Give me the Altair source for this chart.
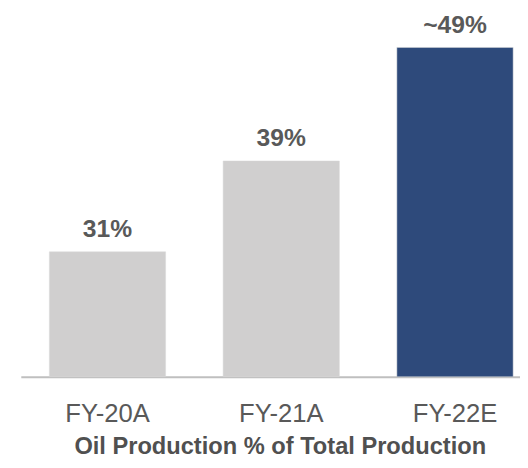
import altair as alt
import pandas as pd

categories = ["FY-20A", "FY-21A", "FY-22E"]
values = [31, 39, 49]
labels = ["31%", "39%", "~49%"]
bar_colors = ["#D0CFCF", "#D0CFCF", "#2E4A7B"]
title_text = "Oil Production % of Total Production"

df = pd.DataFrame({"cat": categories, "val": values, "label": labels})

FONT = "Liberation Sans"

x_enc = alt.X(
    "cat:N",
    sort=categories,
    scale=alt.Scale(paddingInner=0.331, paddingOuter=0.102, align=0.806),
    axis=alt.Axis(
        title=title_text,
        labelAngle=0,
        labelFontSize=26,
        labelColor="#595959",
        labelFont=FONT,
        ticks=False,
        tickSize=0,
        labelPadding=24,
        domainColor="#BFBFBF",
        domainWidth=2,
        titleFont=FONT,
        titleFontSize=24,
        titleFontWeight="bold",
        titleColor="#505050",
        titlePadding=9,
        titleX=263,
        titleAlign="center",
    ),
)
y_enc = alt.Y("val:Q", scale=alt.Scale(domain=[20.5, 50], zero=False, clamp=True), axis=None)

bars = alt.Chart(df).mark_bar(stroke="#D9D9D9", strokeWidth=0.5).encode(
    x=x_enc,
    y=y_enc,
    color=alt.Color("cat:N", scale=alt.Scale(domain=categories, range=bar_colors), legend=None),
)

text = alt.Chart(df).mark_text(
    baseline="alphabetic", dy=-15, fontSize=25, fontWeight="bold", color="#595959", font=FONT
).encode(
    x=alt.X("cat:N", sort=categories),
    y=alt.Y("val:Q"),
    text="label:N",
)

chart = alt.layer(bars, text).properties(
    width=507,
    height=346,
    autosize=alt.AutoSizeParams(type="none"),
    padding={"left": 13, "top": 25, "right": 0, "bottom": 80},
).configure_view(stroke=None)

chart.save("out.html", embed_options={"renderer": "svg", "actions": False})
